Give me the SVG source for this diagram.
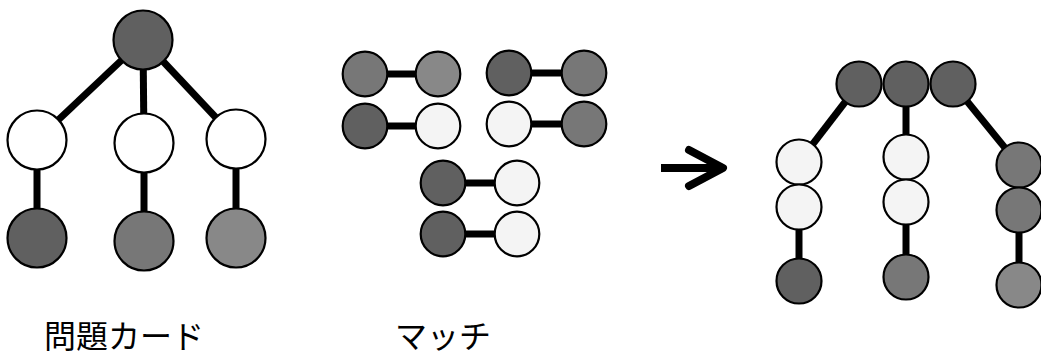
<svg xmlns="http://www.w3.org/2000/svg" width="1041" height="356" viewBox="0 0 1041 356">
<style>
.n{stroke:#000;stroke-width:2.2}
.big{}
.d{fill:#606060}
.m{fill:#777777}
.l{fill:#888888}
.w{fill:#ffffff}
.p{fill:#f4f4f4}
.e{stroke:#000;stroke-width:7;fill:none}
.t{font-family:"Liberation Serif","Noto Sans CJK JP",serif;font-size:32px;fill:#000}
</style>
<rect width="1041" height="356" fill="#fff"/>
<g id="connectors">
<line class="e" x1="143" y1="40" x2="37" y2="140"/>
<line class="e" x1="143" y1="40" x2="144" y2="143"/>
<line class="e" x1="143" y1="40" x2="236" y2="139"/>
<line class="e" x1="37" y1="140" x2="37" y2="238"/>
<line class="e" x1="144" y1="143" x2="144" y2="241"/>
<line class="e" x1="236" y1="139" x2="236" y2="238"/>
<line class="e" x1="365" y1="74" x2="438" y2="74"/>
<line class="e" x1="509" y1="73" x2="584" y2="73"/>
<line class="e" x1="365" y1="126" x2="438" y2="126"/>
<line class="e" x1="509" y1="124" x2="584" y2="124"/>
<line class="e" x1="443" y1="183" x2="517" y2="183"/>
<line class="e" x1="443" y1="234" x2="517" y2="234"/>
<line class="e" x1="859" y1="84" x2="799" y2="162"/>
<line class="e" x1="906" y1="84" x2="906" y2="157"/>
<line class="e" x1="953" y1="84" x2="1019" y2="165"/>
<line class="e" x1="799" y1="207" x2="799" y2="281"/>
<line class="e" x1="906" y1="202" x2="906" y2="277"/>
<line class="e" x1="1019" y1="210" x2="1019" y2="285"/>
<g id="arrow" stroke="#000" stroke-width="8" fill="none" stroke-linecap="round" stroke-linejoin="round">
<line x1="661" y1="168" x2="722" y2="168" stroke-linecap="butt"/>
<polyline points="689,150 723,168 689,186"/>
</g>
</g>
<g id="card">
<g id="c-root"><circle class="n d" cx="143" cy="40" r="29.5"/></g>
<g id="c-m1"><circle class="n w" cx="37" cy="140" r="29.5"/></g>
<g id="c-m2"><circle class="n w" cx="144" cy="143" r="29.5"/></g>
<g id="c-m3"><circle class="n w" cx="236" cy="139" r="29.5"/></g>
<g id="c-b1"><circle class="n d" cx="37" cy="238" r="29.5"/></g>
<g id="c-b2"><circle class="n m" cx="144" cy="241" r="29.5"/></g>
<g id="c-b3"><circle class="n l" cx="236" cy="238" r="29.5"/></g>
</g>
<g id="matches">
<g id="p1a"><circle class="n m" cx="365" cy="74" r="22.3"/></g>
<g id="p1b"><circle class="n l" cx="438" cy="74" r="22.3"/></g>
<g id="p2a"><circle class="n d" cx="509" cy="73" r="22.3"/></g>
<g id="p2b"><circle class="n m" cx="584" cy="73" r="22.3"/></g>
<g id="p3a"><circle class="n d" cx="365" cy="126" r="22.3"/></g>
<g id="p3b"><circle class="n p" cx="438" cy="126" r="22.3"/></g>
<g id="p4a"><circle class="n p" cx="509" cy="124" r="22.3"/></g>
<g id="p4b"><circle class="n m" cx="584" cy="124" r="22.3"/></g>
<g id="p5a"><circle class="n d" cx="443" cy="183" r="22.3"/></g>
<g id="p5b"><circle class="n p" cx="517" cy="183" r="22.3"/></g>
<g id="p6a"><circle class="n d" cx="443" cy="234" r="22.3"/></g>
<g id="p6b"><circle class="n p" cx="517" cy="234" r="22.3"/></g>
</g>
<g id="result">
<g id="r-t1"><circle class="n d" cx="859" cy="84" r="22.5"/></g>
<g id="r-t2"><circle class="n d" cx="906" cy="84" r="22.5"/></g>
<g id="r-t3"><circle class="n d" cx="953" cy="84" r="22.5"/></g>
<g id="r-l1"><circle class="n p" cx="799" cy="162" r="22.5"/></g>
<g id="r-l2"><circle class="n p" cx="799" cy="207" r="22.5"/></g>
<g id="r-l3"><circle class="n d" cx="799" cy="281" r="22.5"/></g>
<g id="r-m1"><circle class="n p" cx="906" cy="157" r="22.5"/></g>
<g id="r-m2"><circle class="n p" cx="906" cy="202" r="22.5"/></g>
<g id="r-m3"><circle class="n m" cx="906" cy="277" r="22.5"/></g>
<g id="r-r1"><circle class="n m" cx="1019" cy="165" r="22.5"/></g>
<g id="r-r2"><circle class="n m" cx="1019" cy="210" r="22.5"/></g>
<g id="r-r3"><circle class="n l" cx="1019" cy="285" r="22.5"/></g>
</g>
<g id="labels">
<text class="t" x="124" y="348" text-anchor="middle">問題カード</text>
<text class="t" x="443" y="348" text-anchor="middle">マッチ</text>
</g>
</svg>
